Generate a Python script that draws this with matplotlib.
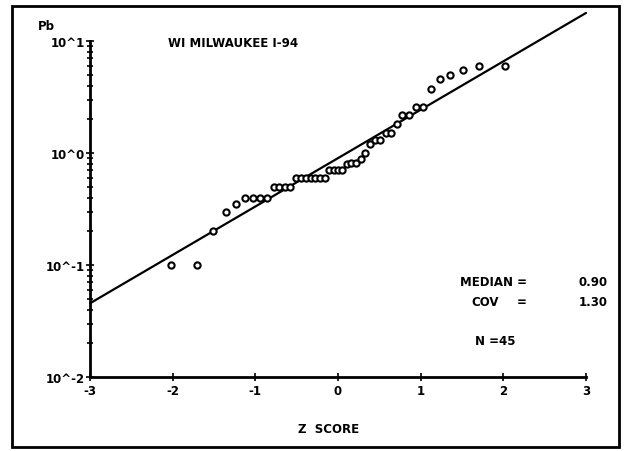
import numpy as np
import matplotlib
matplotlib.use("Agg")
import matplotlib.pyplot as plt
from matplotlib.patches import Rectangle

# Normal scores and lead concentrations (Pb) for the 45 samples
z_scores = [-2.02, -1.71, -1.51, -1.36, -1.23, -1.12, -1.03, -0.94, -0.86,
            -0.78, -0.71, -0.64, -0.58, -0.51, -0.45, -0.39, -0.33, -0.28,
            -0.22, -0.16, -0.11, -0.05, 0.00, 0.05, 0.11, 0.16, 0.22, 0.28,
            0.33, 0.39, 0.45, 0.51, 0.58, 0.64, 0.71, 0.78, 0.86, 0.94,
            1.03, 1.12, 1.23, 1.36, 1.51, 1.71, 2.02]
pb = [0.10, 0.10, 0.20, 0.30, 0.35, 0.40, 0.40, 0.40, 0.40,
      0.50, 0.50, 0.50, 0.50, 0.60, 0.60, 0.60, 0.60, 0.60,
      0.60, 0.60, 0.70, 0.70, 0.70, 0.70, 0.80, 0.82, 0.82, 0.88,
      1.00, 1.20, 1.30, 1.30, 1.50, 1.50, 1.80, 2.20, 2.20, 2.60,
      2.60, 3.70, 4.60, 5.00, 5.50, 6.00, 6.00]

median = 0.90
cov = 1.30
n_samples = 45
site = "WI MILWAUKEE I-94"

x_ticks = [-3, -2, -1, 0, 1, 2, 3]
y_ticks = [1e-2, 1e-1, 1e0, 1e1]
y_tick_labels = ["10^-2", "10^-1", "10^0", "10^1"]

font = dict(family="DejaVu Sans", weight="bold")

fig = plt.figure(figsize=(6.26, 4.52), dpi=100)
ax = fig.add_axes([0.1438, 0.1637, 0.7923, 0.7434])

# lognormal fit line: log10 C = log10(median) + sigma * z
sigma = np.sqrt(np.log(1.0 + cov ** 2)) / np.log(10)
zl = np.array([-3.0, 3.0])
ax.plot(zl, 10 ** (np.log10(median) + sigma * zl), color="black", lw=1.6,
        solid_capstyle="round", clip_on=False, zorder=3)

ax.plot(z_scores, pb, linestyle="none", marker="o", markersize=4.5,
        markerfacecolor="white", markeredgecolor="black",
        markeredgewidth=1.5, zorder=4)

ax.set_yscale("log")
ax.set_xlim(-3, 3)
ax.set_ylim(1e-2, 1e1)
ax.set_xticks(x_ticks)
ax.set_xticklabels([str(t) for t in x_ticks], fontsize=8.5, **font)
ax.set_yticks(y_ticks)
ax.set_yticklabels(y_tick_labels, fontsize=8.5, **font)
ax.tick_params(axis="both", which="major", direction="inout", length=6,
               width=1.2, pad=2)
ax.tick_params(axis="y", which="minor", direction="inout", length=4,
               width=1.2)
ax.tick_params(axis="y", which="major", pad=1)
for s in ("top", "right"):
    ax.spines[s].set_visible(False)
for s in ("left", "bottom"):
    ax.spines[s].set_linewidth(2)

ax.text(-2.06, 9.6, site, fontsize=8.5, ha="left", va="center", **font)
fig.text(38 / 626, 1 - 26 / 452, "Pb", fontsize=8.5, ha="left",
         va="center", **font)
fig.text(329 / 626, 1 - 430 / 452, "Z  SCORE", fontsize=8.5, ha="center",
         va="center", **font)

fig.text(527 / 626, 1 - 283 / 452, "MEDIAN =", fontsize=8.5, ha="right",
         va="center", **font)
fig.text(608 / 626, 1 - 283 / 452, f"{median:.2f}", fontsize=8.5,
         ha="right", va="center", **font)
fig.text(471 / 626, 1 - 302 / 452, "COV", fontsize=8.5, ha="left",
         va="center", **font)
fig.text(527 / 626, 1 - 302 / 452, "=", fontsize=8.5, ha="right",
         va="center", **font)
fig.text(608 / 626, 1 - 302 / 452, f"{cov:.2f}", fontsize=8.5,
         ha="right", va="center", **font)
fig.text(475 / 626, 1 - 342 / 452, f"N ={n_samples}", fontsize=8.5,
         ha="left", va="center", **font)

# outer frame
fig.patches.append(Rectangle((12 / 626, 1 - 448 / 452),
                             607 / 626, 441 / 452, transform=fig.transFigure,
                             fill=False, edgecolor="black", linewidth=2))

fig.savefig("out.png", dpi=100)
